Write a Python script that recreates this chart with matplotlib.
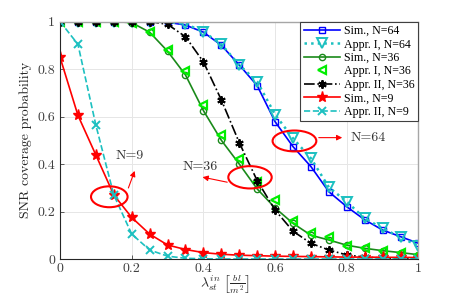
import matplotlib

matplotlib.use("Agg")

import matplotlib.pyplot as plt
from matplotlib.patches import Ellipse

# lambda values (x axis)
lam = [0.0, 0.05, 0.1, 0.15, 0.2, 0.25, 0.3, 0.35, 0.4, 0.45, 0.5,
       0.55, 0.6, 0.65, 0.7, 0.75, 0.8, 0.85, 0.9, 0.95, 1.0]

sim_64 = [1, 1, 1, 1, 1, 1, 0.997, 0.985, 0.955, 0.90, 0.817,
          0.73, 0.578, 0.473, 0.389, 0.283, 0.22, 0.165, 0.122, 0.094, 0.066]
appr1_64 = [1, 1, 1, 1, 1, 1, 0.998, 0.99, 0.957, 0.904, 0.817,
            0.747, 0.608, 0.508, 0.424, 0.302, 0.241, 0.171, 0.129, 0.091, 0.055]
sim_36 = [1, 1, 1, 1, 0.995, 0.955, 0.875, 0.775, 0.625, 0.50, 0.40,
          0.295, 0.215, 0.15, 0.10, 0.08, 0.058, 0.045, 0.035, 0.027, 0.018]
appr1_36 = [1, 1, 1, 1, 0.995, 0.955, 0.88, 0.79, 0.648, 0.522, 0.42,
            0.323, 0.25, 0.16, 0.108, 0.092, 0.055, 0.045, 0.035, 0.025, 0.015]
appr2_36 = [1, 1, 1, 1, 1, 1, 0.988, 0.936, 0.83, 0.67, 0.49,
            0.33, 0.206, 0.117, 0.066, 0.038, 0.017, 0.008, 0.004, 0.002, 0.002]
sim_9 = [0.85, 0.605, 0.438, 0.27, 0.175, 0.105, 0.059, 0.04, 0.027, 0.02, 0.016,
         0.014, 0.012, 0.011, 0.01, 0.009, 0.008, 0.008, 0.007, 0.007, 0.006]
appr2_9 = [1, 0.904, 0.564, 0.27, 0.105, 0.038, 0.012, 0.003, 0.001, 0, 0,
           0, 0, 0, 0, 0, 0, 0, 0, 0, 0]

ticks = [0, 0.2, 0.4, 0.6, 0.8, 1]
tick_labels = ["0", "0.2", "0.4", "0.6", "0.8", "1"]

plt.rcParams["font.family"] = "cmr10"
plt.rcParams["mathtext.fontset"] = "cm"
plt.rcParams["axes.formatter.use_mathtext"] = True

fig = plt.figure(figsize=(4.63, 3.0), dpi=100)
ax = fig.add_axes([60 / 463, 41 / 300, 358.5 / 463, 237.5 / 300])

cyan = "#1cc0c0"
ax.plot(lam, sim_64, "-s", color="#0000ff", lw=1.2, ms=4, mfc="none", mew=1.0, label="Sim., N=64")
ax.plot(lam, appr1_64, ":v", color=cyan, lw=1.8, ms=6.5, mfc="none", mew=1.4, label="Appr. I, N=64")
ax.plot(lam, sim_36, "-o", color="#1a8a1a", lw=1.2, ms=4.5, mfc="none", mew=1.0, label="Sim., N=36")
ax.plot(lam, appr1_36, "<", color="#00ee00", ms=5.5, mfc="none", mew=1.6, label="Appr. I, N=36")
ax.plot(lam, appr2_36, "-.", color="black", lw=1.2, marker=(6, 2, 0), ms=6, mew=1.4,
        label="Appr. II, N=36")
ax.plot(lam, sim_9, "-*", color="#ff0000", lw=1.2, ms=8, label="Sim., N=9")
ax.plot(lam, appr2_9, "--x", color=cyan, lw=1.2, ms=5.5, mew=1.4, label="Appr. II, N=9")

# annotations
red = "#ff0000"
for cx, cy, w, h in [(0.1375, 0.262, 0.102, 0.088), (0.53, 0.344, 0.121, 0.094),
                     (0.654, 0.497, 0.122, 0.088)]:
    ax.add_patch(Ellipse((cx, cy), w, h, fill=False, ec=red, lw=1.5, zorder=5))

arrow = dict(arrowstyle="-|>", color=red, lw=0.8, mutation_scale=8)
ax.annotate("", xy=(0.211, 0.382), xytext=(0.188, 0.288), arrowprops=arrow)
ax.annotate("", xy=(0.39, 0.347), xytext=(0.474, 0.321), arrowprops=arrow)
ax.annotate("", xy=(0.795, 0.511), xytext=(0.714, 0.511), arrowprops=arrow)
ax.text(0.195, 0.432, "N=9", ha="center", va="center", fontsize=10, color="#333333")
ax.text(0.39, 0.389, "N=36", ha="center", va="center", fontsize=10, color="#333333")
ax.text(0.86, 0.508, "N=64", ha="center", va="center", fontsize=10, color="#333333")

ax.set_xlim(0, 1)
ax.set_ylim(0, 1)
ax.set_xticks(ticks)
ax.set_xticklabels(tick_labels)
ax.set_yticks(ticks)
ax.set_yticklabels(tick_labels)
ax.tick_params(direction="in", labelsize=10, colors="#404040", length=3, width=0.6)
ax.tick_params(axis="x", pad=2.5)
ax.grid(True, color="#e6e6e6", lw=0.7)
ax.set_axisbelow(True)
for side in ["left", "bottom"]:
    ax.spines[side].set_color("#262626")
    ax.spines[side].set_linewidth(0.8)
for side in ["top", "right"]:
    ax.spines[side].set_color("#a6a6a6")
    ax.spines[side].set_linewidth(1.0)

ax.set_ylabel("SNR coverage probability", fontsize=10, color="#262626", labelpad=4)
ax.set_xlabel(r"$\lambda_{st}^{in}\ \left[\frac{bl}{m^2}\right]$", fontsize=10,
              color="#262626")
ax.xaxis.set_label_coords(0.46, -0.062)

leg = ax.legend(loc="upper right", prop={"family": "Liberation Serif", "size": 8.6},
                frameon=True, fancybox=False, edgecolor="#404040", framealpha=1,
                handlelength=3.0, labelspacing=0.12, borderpad=0.3,
                handletextpad=0.4, borderaxespad=0)
leg.get_frame().set_linewidth(0.8)

fig.savefig("out.png", dpi=100)
plt.close(fig)
